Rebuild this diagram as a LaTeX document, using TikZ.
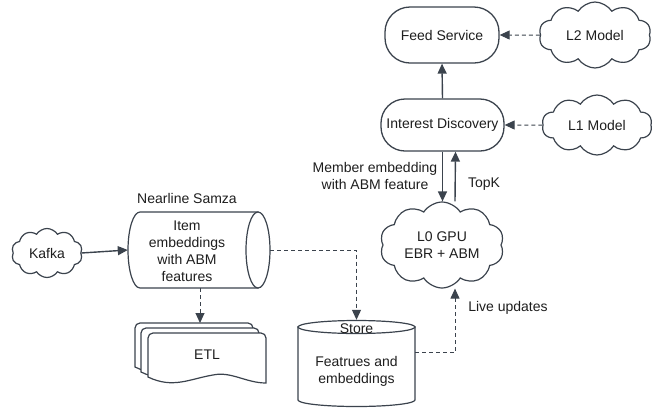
\documentclass[tikz,border=0pt]{standalone}
\usepackage{fontspec}
\setmainfont{Liberation Sans}
\usetikzlibrary{shapes.symbols,arrows.meta,calc}
\definecolor{ln}{HTML}{3B434D}
\definecolor{tx}{HTML}{1E1E1E}
\tikzset{
  every node/.style={font=\fontsize{14}{17}\selectfont, text=tx},
  box/.style={draw=ln, line width=1.3pt, fill=white, inner sep=0pt},
  cld/.style={draw=ln, line width=1.2pt, fill=white, cloud, cloud puffs=10, cloud puff arc=115, cloud ignores aspect, inner sep=0pt, align=center},
  arr/.style={draw=ln, line width=1.4pt, -{Triangle[length=10pt,width=9pt]}},
  darr/.style={draw=ln, line width=1pt, dash pattern=on 4pt off 3pt, -{Triangle[length=10pt,width=9pt]}},
  shp/.style={draw=ln, line width=1.2pt, fill=white},
}
\begin{document}
\begin{tikzpicture}[x=1pt,y=-1pt]
\useasboundingbox (0,0) rectangle (654,408);

% Top boxes
\node[box, rounded corners=25pt, minimum width=114pt, minimum height=56pt] (feed) at (442,35) {Feed Service};
\node[box, rounded corners=24pt, minimum width=123pt, minimum height=52pt] (id) at (442.5,125) {Interest Discovery};

% Clouds
\node[cld, minimum width=112pt, minimum height=66pt] (l2) at (595,35) {L2 Model};
\node[cld, minimum width=110pt, minimum height=60pt] (l1) at (597,125) {L1 Model};
\node[cld, minimum width=124pt, minimum height=86pt] (l0) at (442,245) {L0 GPU\\EBR + ABM};
\node[cld, minimum width=71pt, minimum height=49pt] (kafka) at (47,253) {Kafka};

% Nearline Samza cylinder (horizontal)
\node[minimum width=142pt, minimum height=76pt, inner sep=0pt] (ns) at (199,250) {};
\path[shp] (140,212) -- (258,212) -- (258,288) -- (140,288)
  arc[start angle=90, end angle=270, x radius=12, y radius=38] -- cycle;
\path[shp] (258,250) ellipse[x radius=12, y radius=38];
\node[align=center] (nstext) at (187,251) {Item\\embeddings\\with ABM\\features};
\node (nslabel) at (187,198) {Nearline Samza};

% Store cylinder (vertical)
\node[minimum width=117pt, minimum height=87pt, inner sep=0pt] (store) at (356.5,363.5) {};
\path[shp] (298,327) -- (298,400) arc[start angle=180, end angle=0, x radius=58.5, y radius=6.5]
  -- (415,327) -- cycle;
\path[shp] (356.5,327) ellipse[x radius=58.5, y radius=6.5];
\node (storelabel) at (356.5,328.5) {Store};
\node[align=center] (storetext) at (356.5,371) {Featrues and\\embeddings};

% ETL multi-document
\newcommand{\etldoc}[3]{%
  \path[shp] (#1,#2+44) -- (#1,#2+5) arc[start angle=180,end angle=270,radius=5] -- (#1+#3-5,#2) arc[start angle=270,end angle=360,radius=5]
   -- (#1+#3,#2+50) .. controls (#1+#3-20,#2+50) and (#1+#3-35,#2+38) .. (#1+#3*0.55,#2+42)
   .. controls (#1+#3*0.35,#2+46) and (#1+25,#2+56) .. (#1,#2+44) -- cycle;}
\etldoc{135}{323}{118}
\etldoc{141}{328}{118}
\etldoc{148}{333}{118}
\node (etl) at (207,355) {ETL};
\coordinate (etltop) at (200,323);

% Connectors
\draw[darr] (l2.west) -- (feed.east);
\draw[darr] (l1.west) -- (id.east);
\draw[arr] (id.north) -- (feed.south);
\draw[arr] (id.south) -- (id.south |- l0.north);
\draw[arr] ([xshift=13pt]l0.north) -- ([xshift=13pt]id.south);
\node[align=center] (mlabel) at (375,176) {Member embedding\\with ABM feature};
\node (topk) at (484,184) {TopK};
\draw[arr] (kafka.east) -- (ns.west);
\draw[darr] (ns.east) -- (ns.east -| store.north) -- (store.north);
\draw[darr] (200,288) -- (etltop);
\draw[darr] (store.east |- storetext.north) -- ++(40,0) -| ([xshift=13pt]l0.south);
\node (live) at (508,308) {Live updates};
\end{tikzpicture}
\end{document}
